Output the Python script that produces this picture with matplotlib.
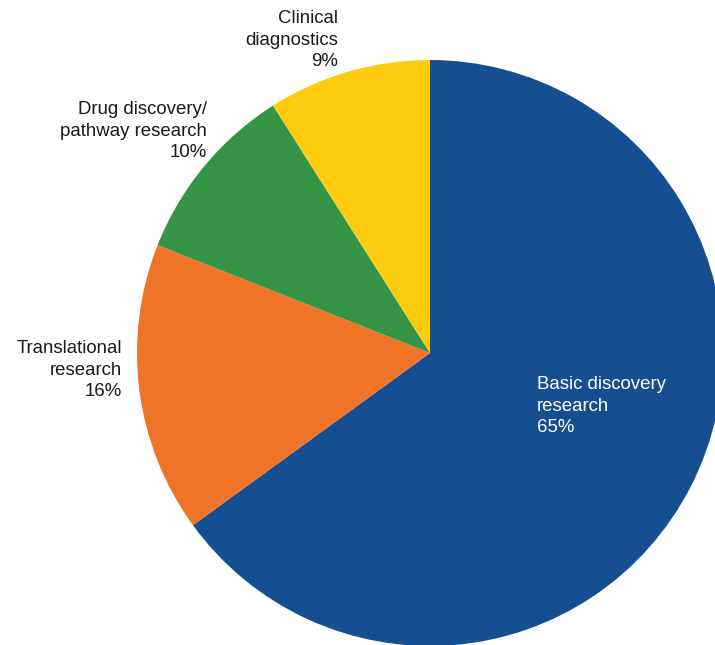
import matplotlib.pyplot as plt

plt.rcParams['font.family'] = ['Liberation Sans', 'DejaVu Sans']

categories = ['Basic discovery\nresearch', 'Translational\nresearch',
              'Drug discovery/\npathway research', 'Clinical\ndiagnostics']
shares = [65, 16, 10, 9]
colors = ['#164f91', '#f07427', '#369447', '#fecb0e']

W, H = 715, 645
fig = plt.figure(figsize=(W / 100, H / 100), dpi=100)
ax = fig.add_axes([0, 0, 1, 1])

ax.pie(shares, colors=colors, startangle=90, counterclock=False,
       center=(430, H - 353), radius=293, frame=True,
       wedgeprops=dict(linewidth=0))
ax.set_xlim(0, W)
ax.set_ylim(0, H)
ax.set_aspect('equal')
ax.axis('off')

# label anchors in pixel coords (x, y of top line, alignment, colour)
spots = [(537, 376, 'left', 'white'),
         (122, 340, 'right', '#1a1a1a'),
         (207, 101, 'right', '#1a1a1a'),
         (338, 10, 'right', '#1a1a1a')]
for name, val, (x, y, ha, c) in zip(categories, shares, spots):
    ax.text(x, H - y, f'{name}\n{val}%', ha=ha, va='top', color=c,
            fontsize=13.4, linespacing=1.36, multialignment=ha)

fig.savefig('out.png', dpi=100)
